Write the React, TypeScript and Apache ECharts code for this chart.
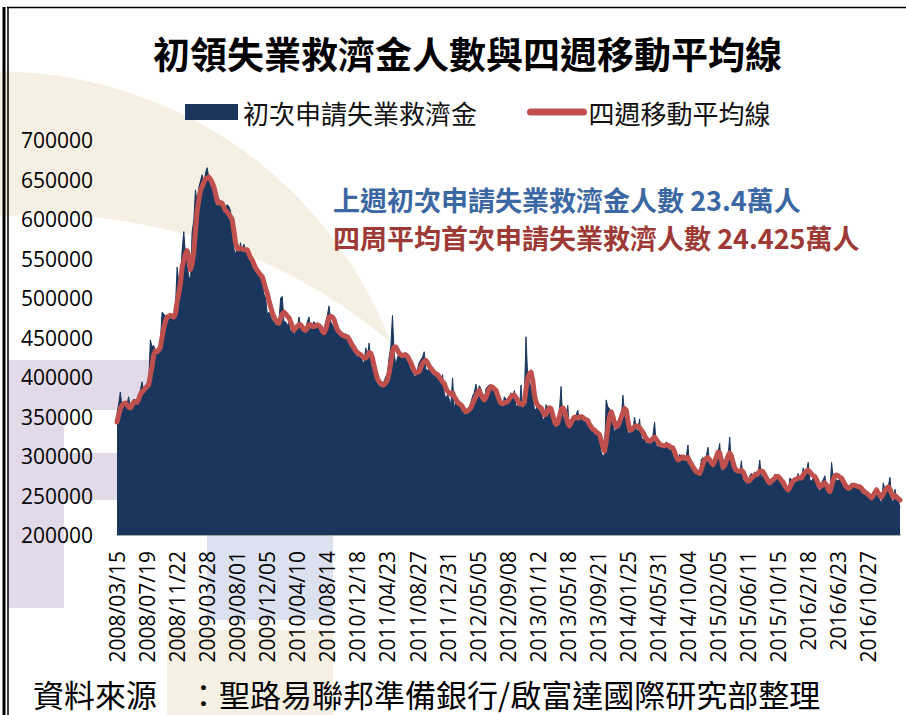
import React, { useEffect, useRef } from 'react';
import * as echarts from 'echarts';

// x-axis tick labels (one every 18 weeks)
const TICK_LABELS = [
  '2008/03/15', '2008/07/19', '2008/11/22', '2009/03/28', '2009/08/01', '2009/12/05',
  '2010/04/10', '2010/08/14', '2010/12/18', '2011/04/23', '2011/08/27', '2011/12/31',
  '2012/05/05', '2012/09/08', '2013/01/12', '2013/05/18', '2013/09/21', '2014/01/25',
  '2014/05/31', '2014/10/04', '2015/02/05', '2015/06/11', '2015/10/15', '2016/2/18',
  '2016/6/23', '2016/10/27',
];
const LABEL_EVERY = 18;
const START_DATE_UTC = Date.UTC(2008, 2, 15);

// weekly initial claims, thousands
const WEEKLY_CLAIMS_K = [
  354, 366, 381, 362, 368, 364, 366, 375, 358, 365, 372, 370, 366, 378, 383, 394, 380, 388,
  392, 395, 447, 438, 440, 432, 430, 434, 445, 482, 480, 475, 472, 478, 480, 476, 478, 488,
  539, 520, 525, 560, 584, 555, 540, 528, 520, 584, 598, 637, 620, 640, 648, 656, 642, 658,
  665, 652, 640, 645, 630, 620, 615, 625, 622, 618, 608, 615, 618, 616, 610, 585, 562, 555,
  565, 558, 570, 555, 568, 560, 558, 548, 552, 538, 540, 532, 535, 525, 530, 522, 505, 500,
  480, 482, 478, 470, 475, 465, 466, 470, 500, 502, 470, 470, 465, 470, 455, 465, 450, 460,
  460, 476, 462, 458, 456, 462, 470, 476, 458, 465, 470, 466, 462, 465, 458, 455, 460, 470,
  478, 490, 470, 466, 462, 458, 458, 452, 455, 450, 448, 455, 450, 440, 438, 432, 440, 428,
  425, 430, 428, 420, 418, 437, 425, 443, 418, 410, 405, 395, 393, 388, 390, 388, 395, 400,
  405, 425, 438, 478, 430, 415, 425, 430, 428, 425, 430, 431, 420, 415, 408, 410, 400, 402,
  410, 418, 422, 425, 432, 410, 408, 412, 410, 402, 405, 400, 398, 395, 392, 403, 380, 372,
  378, 372, 365, 399, 360, 368, 362, 370, 356, 360, 352, 355, 360, 362, 368, 376, 380, 391,
  378, 389, 385, 370, 368, 385, 388, 390, 386, 382, 385, 380, 368, 365, 370, 362, 375, 372,
  370, 375, 380, 372, 383, 362, 365, 358, 390, 355, 375, 451, 400, 395, 385, 372, 360, 358,
  370, 355, 360, 345, 348, 365, 360, 362, 352, 342, 338, 340, 348, 358, 388, 345, 352, 335,
  364, 332, 345, 350, 346, 352, 358, 342, 350, 345, 350, 340, 348, 333, 336, 330, 335, 325,
  330, 318, 305, 300, 302, 371, 362, 360, 345, 340, 330, 335, 340, 350, 345, 377, 355, 352,
  330, 328, 336, 332, 349, 335, 330, 347, 325, 320, 322, 315, 318, 320, 312, 326, 343, 313,
  312, 315, 316, 310, 312, 318, 310, 306, 314, 303, 298, 296, 290, 302, 300, 298, 294, 300,
  314, 286, 287, 280, 282, 276, 280, 275, 296, 298, 295, 300, 311, 288, 290, 285, 298, 302,
  304, 316, 284, 280, 292, 300, 298, 324, 288, 282, 280, 278, 282, 276, 294, 270, 268, 264,
  268, 275, 278, 272, 280, 274, 278, 295, 272, 275, 270, 268, 262, 265, 272, 268, 277, 275,
  270, 268, 262, 266, 255, 260, 250, 272, 270, 262, 272, 268, 278, 268, 270, 285, 276, 280,
  292, 270, 268, 272, 275, 262, 258, 255, 266, 270, 275, 258, 254, 252, 292, 272, 268, 270,
  268, 272, 270, 262, 258, 262, 256, 262, 266, 262, 260, 263, 258, 262, 252, 254, 258, 248,
  252, 245, 246, 254, 258, 260, 248, 244, 240, 266, 256, 258, 262, 273, 245, 240, 258, 242, 245, 234,
];

// four-week moving average, thousands
const FOUR_WEEK_AVG_K = [
  343, 352, 360, 364, 366, 367, 365, 362, 361, 364, 368, 369, 368, 372, 378, 381, 383, 386,
  388, 390, 402, 414, 428, 433, 432, 434, 438, 450, 462, 470, 476, 477, 478, 477, 476, 480,
  495, 506, 518, 539, 547, 556, 560, 552, 536, 543, 558, 585, 610, 624, 636, 641, 646, 651,
  652, 653, 650, 646, 641, 632, 623, 620, 621, 620, 615, 611, 609, 606, 603, 599, 585, 570,
  563, 562, 563, 562, 561, 561, 561, 556, 551, 548, 543, 538, 535, 532, 529, 527, 520, 512,
  506, 497, 489, 482, 476, 472, 469, 468, 474, 480, 482, 480, 477, 475, 470, 464, 459, 462,
  464, 466, 466, 463, 460, 459, 462, 466, 466, 464, 464, 465, 466, 465, 463, 458, 456, 460,
  468, 476, 477, 476, 473, 466, 460, 457, 455, 453, 452, 451, 451, 448, 444, 440, 437, 433,
  431, 429, 428, 426, 424, 424, 427, 431, 430, 424, 414, 405, 398, 394, 392, 390, 390, 393,
  396, 405, 418, 432, 438, 438, 434, 430, 428, 427, 428, 428, 426, 422, 418, 413, 408, 405,
  406, 407, 412, 417, 420, 421, 418, 414, 411, 408, 406, 404, 403, 400, 397, 394, 392, 386,
  382, 380, 378, 380, 375, 372, 368, 366, 365, 362, 358, 356, 357, 359, 361, 366, 371, 375,
  380, 383, 378, 374, 371, 374, 380, 385, 388, 387, 385, 383, 377, 371, 367, 366, 367, 368,
  369, 372, 375, 377, 377, 374, 370, 366, 366, 365, 368, 385, 398, 404, 406, 396, 378, 368,
  364, 362, 361, 357, 352, 353, 358, 361, 360, 352, 344, 340, 342, 350, 358, 361, 358, 350,
  342, 338, 342, 346, 349, 349, 348, 349, 350, 349, 347, 346, 345, 340, 337, 334, 333, 330,
  329, 327, 320, 312, 306, 318, 336, 350, 356, 350, 342, 337, 338, 343, 349, 355, 360, 358,
  345, 334, 333, 335, 337, 338, 338, 336, 333, 330, 326, 322, 320, 319, 320, 322, 324, 321,
  318, 315, 314, 313, 313, 314, 314, 312, 311, 310, 305, 299, 295, 296, 298, 299, 297, 298,
  298, 293, 290, 286, 283, 280, 279, 278, 283, 290, 295, 297, 298, 295, 292, 289, 293, 299,
  305, 304, 295, 286, 288, 294, 300, 304, 300, 292, 285, 282, 281, 281, 282, 280, 275, 270,
  268, 269, 272, 274, 276, 276, 278, 281, 281, 280, 276, 272, 268, 266, 268, 270, 272, 274,
  274, 272, 269, 267, 262, 259, 257, 260, 265, 268, 270, 271, 272, 272, 272, 276, 279, 281,
  282, 280, 277, 275, 274, 270, 265, 261, 262, 265, 266, 263, 258, 255, 262, 270, 275, 276,
  275, 273, 272, 268, 264, 261, 259, 260, 262, 263, 263, 262, 261, 261, 259, 256, 254, 253,
  251, 249, 247, 250, 254, 257, 253, 250, 248, 252, 256, 259, 261, 258, 252, 248, 250, 248, 246, 244.25,
];

const SERIES_NAMES = ['初次申請失業救濟金', '四週移動平均線'];
const TITLE = '初領失業救濟金人數與四週移動平均線';
const NOTE_WEEKLY = '上週初次申請失業救濟金人數 23.4萬人';
const NOTE_AVG = '四周平均首次申請失業救濟人數 24.425萬人';
const SOURCE = '資料來源　：聖路易聯邦準備銀行/啟富達國際研究部整理';

const NAVY = '#1a365d';
const RED = '#c0504d';
const CJK = "'Noto Sans CJK TC', 'Noto Sans CJK SC', sans-serif";
const NUM = "'Open Sans', 'Noto Sans', sans-serif";

const pad = (n: number) => (n < 10 ? '0' + n : String(n));
const CATEGORIES = WEEKLY_CLAIMS_K.map((_, i) => {
  const d = new Date(START_DATE_UTC + i * 7 * 86400000);
  return `${d.getUTCFullYear()}/${pad(d.getUTCMonth() + 1)}/${pad(d.getUTCDate())}`;
});
const TICK_BY_CATEGORY: Record<string, string> = {};
TICK_LABELS.forEach((t, k) => {
  const c = CATEGORIES[k * LABEL_EVERY];
  if (c) TICK_BY_CATEGORY[c] = t;
});

let shapesRegistered = false;
function registerShapes() {
  if (shapesRegistered) return;
  const d = 'M 390.4 341.9 A 420 420 0 0 0 -421.8 477.3 A 541 541 0 0 1 390.4 341.9 Z';
  echarts.graphic.registerShape('wmCrescent', echarts.graphic.extendPath(d, {}));
  shapesRegistered = true;
}

export default function App() {
  const ref = useRef<HTMLDivElement>(null);

  useEffect(() => {
    document.body.style.margin = '0';
    registerShapes();
    if (!ref.current) return;
    const chart = echarts.init(ref.current, undefined, { renderer: 'svg' });

    const option: any = {
      animation: false,
      backgroundColor: '#ffffff',
      title: {
        text: TITLE,
        left: 148,
        top: 29,
        textStyle: { fontFamily: CJK, fontSize: 37, fontWeight: 'bold', color: '#000' },
      },
      legend: {
        left: 185,
        top: 99,
        padding: 0,
        itemWidth: 53,
        itemHeight: 16,
        itemGap: 50,
        textStyle: { fontFamily: CJK, fontSize: 26, color: '#111' },
        data: [
          { name: SERIES_NAMES[0], icon: 'rect' },
          {
            name: SERIES_NAMES[1],
            itemStyle: { opacity: 0 },
            lineStyle: { width: 7, cap: 'round', color: RED },
          },
        ],
      },
      grid: { left: 117, right: 6, top: 140, bottom: 180, containLabel: false },
      xAxis: {
        type: 'category',
        data: CATEGORIES,
        boundaryGap: false,
        axisTick: { show: false },
        axisLine: { show: true, lineStyle: { color: '#8c8c8c', width: 1.5 } },
        axisLabel: {
          rotate: 90,
          margin: 16,
          interval: (index: number) => index % LABEL_EVERY === 0,
          formatter: (value: string) => TICK_BY_CATEGORY[value] ?? '',
          fontFamily: NUM,
          fontSize: 21,
          color: '#000',
        },
        splitLine: { show: false },
      },
      yAxis: {
        type: 'value',
        min: 200000,
        max: 700000,
        interval: 50000,
        axisLine: { show: false },
        axisTick: { show: false },
        splitLine: { show: false },
        axisLabel: {
          margin: 24,
          fontFamily: NUM,
          fontSize: 21,
          color: '#000',
          formatter: (v: number) => String(v),
        },
      },
      series: [
        {
          name: SERIES_NAMES[0],
          type: 'line',
          data: WEEKLY_CLAIMS_K.map((v) => v * 1000),
          symbol: 'none',
          color: NAVY,
          itemStyle: { color: NAVY },
          lineStyle: { color: NAVY, width: 1 },
          areaStyle: { color: NAVY, opacity: 1, origin: 'start' },
          z: 2,
        },
        {
          name: SERIES_NAMES[1],
          type: 'line',
          data: FOUR_WEEK_AVG_K.map((v) => v * 1000),
          symbol: 'none',
          color: RED,
          itemStyle: { color: RED },
          lineStyle: { color: RED, width: 5, join: 'round', cap: 'round' },
          z: 3,
        },
      ],
      graphic: [
        // faint watermark logo behind the chart
        { type: 'wmCrescent', x: 0, y: 0, z: -10, silent: true, style: { fill: '#f5f0e3' } },
        { type: 'rect', z: -10, silent: true, shape: { x: 8, y: 360, width: 56, height: 248 }, style: { fill: '#e2d9e9' } },
        { type: 'rect', z: -10, silent: true, shape: { x: 64, y: 360, width: 180, height: 50 }, style: { fill: '#e2d9e9' } },
        { type: 'rect', z: -10, silent: true, shape: { x: 64, y: 453, width: 180, height: 47 }, style: { fill: '#e2d9e9' } },
        { type: 'rect', z: -10, silent: true, shape: { x: 207, y: 470, width: 126, height: 150 }, style: { fill: '#dbe1ef' } },
        { type: 'rect', z: -10, silent: true, shape: { x: 167, y: 630, width: 166, height: 85 }, style: { fill: '#f5f0e3' } },
        // frame
        { type: 'rect', z: 50, silent: true, shape: { x: 2.5, y: 7, width: 3, height: 708 }, style: { fill: '#000' } },
        { type: 'line', z: 50, silent: true, shape: { x1: 8, y1: 7, x2: 8, y2: 715 }, style: { stroke: '#000', lineWidth: 1.5 } },
        { type: 'line', z: 50, silent: true, shape: { x1: 7, y1: 7.5, x2: 906, y2: 7.5 }, style: { stroke: '#000', lineWidth: 1.5 } },
        // annotations
        {
          type: 'text', z: 60, x: 333, y: 199,
          style: { text: NOTE_WEEKLY, fill: '#3b67a3', fontFamily: CJK, fontSize: 27, fontWeight: 'bold', verticalAlign: 'middle', align: 'left' },
        },
        {
          type: 'text', z: 60, x: 333, y: 237,
          style: { text: NOTE_AVG, fill: '#9e3a36', fontFamily: CJK, fontSize: 27, fontWeight: 'bold', verticalAlign: 'middle', align: 'left' },
        },
        {
          type: 'text', z: 60, x: 33, y: 693,
          style: { text: SOURCE, fill: '#000', fontFamily: CJK, fontSize: 31, verticalAlign: 'middle', align: 'left' },
        },
      ],
    };

    chart.setOption(option);
    return () => chart.dispose();
  }, []);

  return (
    <div
      ref={ref}
      style={{ position: 'absolute', left: 0, top: 0, width: 906, height: 715 }}
    />
  );
}
